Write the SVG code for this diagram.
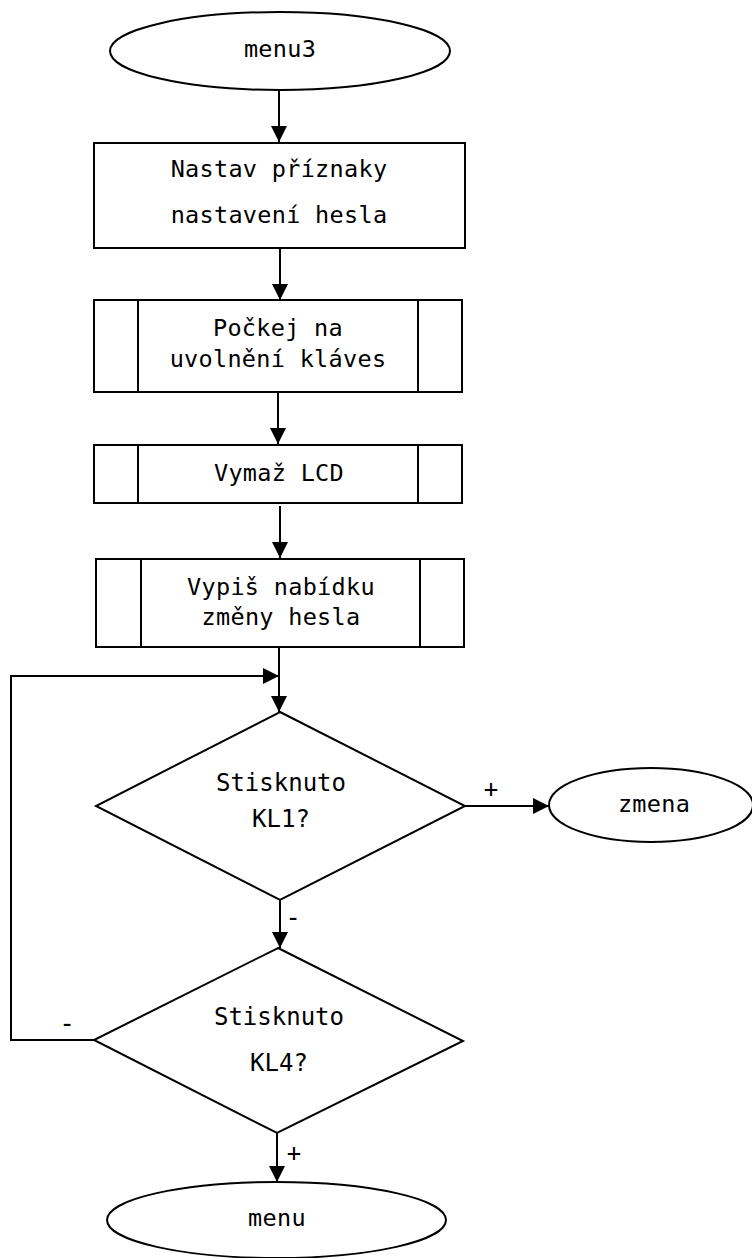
<svg xmlns="http://www.w3.org/2000/svg" width="752" height="1258" viewBox="0 0 752 1258">
<style>
.s{fill:#fff;stroke:#000;stroke-width:2}
.l{fill:none;stroke:#000;stroke-width:2}
.t{font-family:"DejaVu Sans Mono","Liberation Mono",monospace;font-size:23.5px;letter-spacing:0.3px;fill:#000;text-anchor:middle}
.d{font-family:"DejaVu Sans Mono","Liberation Mono",monospace;font-size:24px;fill:#000;text-anchor:middle}
.g{font-family:"DejaVu Sans Mono","Liberation Mono",monospace;fill:#000;text-anchor:middle}
</style>
<defs>
<marker id="ar" markerUnits="userSpaceOnUse" markerWidth="18" markerHeight="18" refX="16" refY="8" orient="auto">
<path d="M0,0 L16,8 L0,16 Z" fill="#000"/>
</marker>
</defs>
<rect width="752" height="1258" fill="#fff"/>
<g id="connectors">
<line class="l" x1="279" y1="90" x2="279" y2="142" marker-end="url(#ar)"/>
<line class="l" x1="280" y1="248" x2="280" y2="300" marker-end="url(#ar)"/>
<line class="l" x1="278" y1="392" x2="278" y2="444" marker-end="url(#ar)"/>
<line class="l" x1="280" y1="506" x2="280" y2="558" marker-end="url(#ar)"/>
<line class="l" x1="279" y1="647" x2="279" y2="712" marker-end="url(#ar)"/>
<polyline class="l" points="94,1040 11,1040 11,676 279,676" marker-end="url(#ar)"/>
<line class="l" x1="465" y1="806" x2="549" y2="806" marker-end="url(#ar)"/>
<line class="l" x1="280" y1="900" x2="280" y2="948" marker-end="url(#ar)"/>
<line class="l" x1="277" y1="1133" x2="277" y2="1182" marker-end="url(#ar)"/>
<text class="g" x="491" y="797" font-size="24" font-weight="300">+</text>
<text class="g" x="293" y="926" font-size="26">-</text>
<text class="g" x="67" y="1032" font-size="26">-</text>
<text class="g" x="294" y="1161" font-size="24" font-weight="300">+</text>
</g>
<g id="start">
<ellipse class="s" cx="280" cy="51" rx="170" ry="39"/>
<text class="t" x="280" y="57">menu3</text>
</g>
<g id="flags">
<rect class="s" x="94" y="143" width="371" height="105"/>
<text class="t" x="279" y="177">Nastav příznaky</text>
<text class="t" x="279" y="223">nastavení hesla</text>
</g>
<g id="wait">
<rect class="s" x="94" y="300" width="368" height="92"/>
<line class="l" x1="138" y1="300" x2="138" y2="392"/>
<line class="l" x1="418" y1="300" x2="418" y2="392"/>
<text class="t" x="278" y="336">Počkej na</text>
<text class="t" x="278" y="367">uvolnění kláves</text>
</g>
<g id="clear">
<rect class="s" x="94" y="445" width="368" height="58"/>
<line class="l" x1="138" y1="445" x2="138" y2="503"/>
<line class="l" x1="418" y1="445" x2="418" y2="503"/>
<text class="t" x="279" y="481">Vymaž LCD</text>
</g>
<g id="print">
<rect class="s" x="96" y="559" width="368" height="88"/>
<line class="l" x1="141" y1="559" x2="141" y2="647"/>
<line class="l" x1="420" y1="559" x2="420" y2="647"/>
<text class="t" x="281" y="595">Vypiš nabídku</text>
<text class="t" x="281" y="625">změny hesla</text>
</g>
<g id="kl1">
<polygon class="s" points="280,712 465,806 280,900 96,806"/>
<text class="d" x="281" y="791">Stisknuto</text>
<text class="d" x="281" y="827">KL1?</text>
</g>
<g id="zmena">
<ellipse class="s" cx="651" cy="805" rx="102" ry="37"/>
<text class="t" x="654" y="812">zmena</text>
</g>
<g id="kl4">
<polygon class="s" points="278,948 463,1041 277,1133 94,1040"/>
<text class="d" x="279" y="1025">Stisknuto</text>
<text class="d" x="279" y="1071">KL4?</text>
</g>
<g id="end">
<ellipse class="s" cx="276.5" cy="1220" rx="169.5" ry="38"/>
<text class="t" x="277" y="1226">menu</text>
</g>
</svg>
